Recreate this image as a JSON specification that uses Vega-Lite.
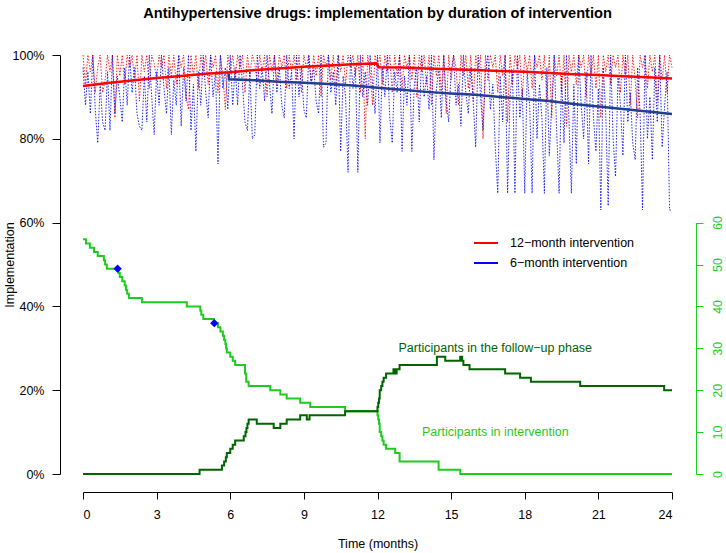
{
  "$schema": "https://vega.github.io/schema/vega-lite/v6.json",
  "width": 589,
  "height": 419,
  "autosize": "none",
  "padding": {"left": 83, "top": 55, "right": 54, "bottom": 79},
  "config": {
    "font": "Liberation Sans",
    "view": {"stroke": null},
    "axis": {
      "grid": false, "domainColor": "#000", "tickColor": "#000", "labelColor": "#000", "titleColor": "#000",
      "labelFontSize": 12.5, "titleFontSize": 12.5, "titleFontWeight": "normal"
    }
  },
  "title": {
    "text": "Antihypertensive drugs: implementation by duration of intervention",
    "fontSize": 14.6, "fontWeight": "bold", "color": "#000", "anchor": "middle", "frame": "group",
    "baseline": "alphabetic", "offset": 16
  },
  "datasets": {
    "imp": [
      {"m":0.0,"b":97,"r":100},{"m":0.1,"b":88,"r":93},{"m":0.2,"b":96,"r":100},{"m":0.3,"b":86,"r":96},{"m":0.4,"b":100,"r":100},
      {"m":0.5,"b":87,"r":91},{"m":0.6,"b":79,"r":97},{"m":0.7,"b":93,"r":100},{"m":0.8,"b":84,"r":91},{"m":0.9,"b":82,"r":94},
      {"m":1.0,"b":96,"r":100},{"m":1.1,"b":82,"r":96},{"m":1.2,"b":100,"r":100},{"m":1.3,"b":86,"r":85},{"m":1.4,"b":95,"r":100},
      {"m":1.5,"b":90,"r":95},{"m":1.6,"b":84,"r":100},{"m":1.7,"b":97,"r":93},{"m":1.8,"b":88,"r":100},{"m":1.9,"b":100,"r":97},
      {"m":2.0,"b":91,"r":100},{"m":2.1,"b":97,"r":94},{"m":2.2,"b":86,"r":100},{"m":2.3,"b":83,"r":89},{"m":2.4,"b":82,"r":100},
      {"m":2.5,"b":95,"r":96},{"m":2.6,"b":84,"r":100},{"m":2.7,"b":100,"r":92},{"m":2.8,"b":90,"r":100},{"m":2.9,"b":81,"r":98},
      {"m":3.0,"b":96,"r":94},{"m":3.1,"b":88,"r":100},{"m":3.2,"b":100,"r":97},{"m":3.3,"b":92,"r":100},{"m":3.4,"b":86,"r":92},
      {"m":3.5,"b":97,"r":100},{"m":3.6,"b":81,"r":95},{"m":3.7,"b":94,"r":100},{"m":3.8,"b":88,"r":93},{"m":3.9,"b":100,"r":100},
      {"m":4.0,"b":83,"r":97},{"m":4.1,"b":97,"r":100},{"m":4.2,"b":89,"r":90},{"m":4.3,"b":100,"r":87},{"m":4.4,"b":82,"r":100},
      {"m":4.5,"b":93,"r":95},{"m":4.6,"b":77,"r":100},{"m":4.7,"b":96,"r":92},{"m":4.8,"b":88,"r":100},{"m":4.9,"b":100,"r":96},
      {"m":5.0,"b":91,"r":100},{"m":5.1,"b":85,"r":93},{"m":5.2,"b":100,"r":100},{"m":5.3,"b":90,"r":97},{"m":5.4,"b":96,"r":100},
      {"m":5.5,"b":74,"r":91},{"m":5.6,"b":100,"r":100},{"m":5.7,"b":92,"r":95},{"m":5.8,"b":97,"r":87},{"m":5.9,"b":87,"r":100},
      {"m":6.0,"b":100,"r":96},{"m":6.1,"b":88,"r":100},{"m":6.2,"b":97,"r":94},{"m":6.3,"b":88,"r":100},{"m":6.4,"b":100,"r":97},
      {"m":6.5,"b":93,"r":100},{"m":6.6,"b":84,"r":91},{"m":6.7,"b":82,"r":100},{"m":6.8,"b":96,"r":95},{"m":6.9,"b":80,"r":100},
      {"m":7.0,"b":81,"r":98},{"m":7.1,"b":100,"r":93},{"m":7.2,"b":92,"r":100},{"m":7.3,"b":97,"r":96},{"m":7.4,"b":89,"r":100},
      {"m":7.5,"b":100,"r":90},{"m":7.6,"b":93,"r":100},{"m":7.7,"b":86,"r":96},{"m":7.8,"b":100,"r":100},{"m":7.9,"b":91,"r":93},
      {"m":8.0,"b":97,"r":100},{"m":8.1,"b":88,"r":97},{"m":8.2,"b":85,"r":100},{"m":8.3,"b":100,"r":92},{"m":8.4,"b":92,"r":100},
      {"m":8.5,"b":96,"r":96},{"m":8.6,"b":80,"r":100},{"m":8.7,"b":100,"r":94},{"m":8.8,"b":90,"r":100},{"m":8.9,"b":97,"r":91},
      {"m":9.0,"b":87,"r":100},{"m":9.1,"b":85,"r":97},{"m":9.2,"b":100,"r":100},{"m":9.3,"b":93,"r":93},{"m":9.4,"b":97,"r":100},
      {"m":9.5,"b":89,"r":95},{"m":9.6,"b":86,"r":100},{"m":9.7,"b":100,"r":90},{"m":9.8,"b":78,"r":100},{"m":9.9,"b":79,"r":97},
      {"m":10.0,"b":100,"r":100},{"m":10.1,"b":91,"r":94},{"m":10.2,"b":96,"r":100},{"m":10.3,"b":88,"r":92},{"m":10.4,"b":100,"r":100},
      {"m":10.5,"b":77,"r":96},{"m":10.6,"b":95,"r":100},{"m":10.7,"b":90,"r":93},{"m":10.8,"b":72,"r":100},{"m":10.9,"b":100,"r":97},
      {"m":11.0,"b":92,"r":100},{"m":11.1,"b":97,"r":95},{"m":11.2,"b":72,"r":100},{"m":11.3,"b":100,"r":91},{"m":11.4,"b":90,"r":100},
      {"m":11.5,"b":96,"r":80},{"m":11.6,"b":88,"r":100},{"m":11.7,"b":100,"r":96},{"m":11.8,"b":93,"r":88},{"m":11.9,"b":86,"r":100},
      {"m":12.0,"b":100,"r":97},{"m":12.1,"b":79,"r":100},{"m":12.2,"b":97,"r":93},{"m":12.3,"b":90,"r":100},{"m":12.4,"b":100,"r":96},
      {"m":12.5,"b":85,"r":100},{"m":12.6,"b":79,"r":91},{"m":12.7,"b":96,"r":100},{"m":12.8,"b":91,"r":95},{"m":12.9,"b":100,"r":100},
      {"m":13.0,"b":77,"r":92},{"m":13.1,"b":95,"r":100},{"m":13.2,"b":88,"r":97},{"m":13.3,"b":100,"r":100},{"m":13.4,"b":77,"r":94},
      {"m":13.5,"b":93,"r":100},{"m":13.6,"b":97,"r":90},{"m":13.7,"b":84,"r":100},{"m":13.8,"b":100,"r":96},{"m":13.9,"b":90,"r":100},
      {"m":14.0,"b":95,"r":93},{"m":14.1,"b":87,"r":100},{"m":14.2,"b":100,"r":88},{"m":14.3,"b":75,"r":100},{"m":14.4,"b":92,"r":95},
      {"m":14.5,"b":97,"r":100},{"m":14.6,"b":85,"r":91},{"m":14.7,"b":100,"r":100},{"m":14.8,"b":89,"r":86},{"m":14.9,"b":84,"r":100},
      {"m":15.0,"b":96,"r":94},{"m":15.1,"b":100,"r":100},{"m":15.2,"b":88,"r":97},{"m":15.3,"b":93,"r":88},{"m":15.4,"b":83,"r":100},
      {"m":15.5,"b":100,"r":95},{"m":15.6,"b":91,"r":100},{"m":15.7,"b":86,"r":92},{"m":15.8,"b":97,"r":100},{"m":15.9,"b":89,"r":89},
      {"m":16.0,"b":78,"r":100},{"m":16.1,"b":100,"r":96},{"m":16.2,"b":90,"r":100},{"m":16.3,"b":82,"r":80},{"m":16.4,"b":96,"r":100},
      {"m":16.5,"b":100,"r":94},{"m":16.6,"b":87,"r":100},{"m":16.7,"b":93,"r":97},{"m":16.8,"b":78,"r":100},{"m":16.9,"b":67,"r":91},
      {"m":17.0,"b":95,"r":100},{"m":17.1,"b":84,"r":95},{"m":17.2,"b":100,"r":100},{"m":17.3,"b":67,"r":84},{"m":17.4,"b":90,"r":100},
      {"m":17.5,"b":96,"r":93},{"m":17.6,"b":67,"r":100},{"m":17.7,"b":100,"r":97},{"m":17.8,"b":85,"r":100},{"m":17.9,"b":92,"r":90},
      {"m":18.0,"b":67,"r":100},{"m":18.1,"b":96,"r":96},{"m":18.2,"b":88,"r":100},{"m":18.3,"b":67,"r":92},{"m":18.4,"b":100,"r":100},
      {"m":18.5,"b":80,"r":97},{"m":18.6,"b":93,"r":100},{"m":18.7,"b":85,"r":94},{"m":18.8,"b":67,"r":100},{"m":18.9,"b":97,"r":89},
      {"m":19.0,"b":76,"r":100},{"m":19.1,"b":88,"r":85},{"m":19.2,"b":100,"r":100},{"m":19.3,"b":82,"r":95},{"m":19.4,"b":67,"r":100},
      {"m":19.5,"b":95,"r":91},{"m":19.6,"b":79,"r":100},{"m":19.7,"b":100,"r":83},{"m":19.8,"b":85,"r":100},{"m":19.9,"b":67,"r":96},
      {"m":20.0,"b":93,"r":100},{"m":20.1,"b":74,"r":93},{"m":20.2,"b":100,"r":100},{"m":20.3,"b":88,"r":97},{"m":20.4,"b":80,"r":100},
      {"m":20.5,"b":96,"r":90},{"m":20.6,"b":74,"r":100},{"m":20.7,"b":100,"r":95},{"m":20.8,"b":85,"r":100},{"m":20.9,"b":77,"r":92},
      {"m":21.0,"b":92,"r":100},{"m":21.1,"b":63,"r":85},{"m":21.2,"b":97,"r":100},{"m":21.3,"b":86,"r":96},{"m":21.4,"b":64,"r":100},
      {"m":21.5,"b":100,"r":93},{"m":21.6,"b":80,"r":100},{"m":21.7,"b":71,"r":97},{"m":21.8,"b":95,"r":100},{"m":21.9,"b":88,"r":91},
      {"m":22.0,"b":76,"r":100},{"m":22.1,"b":100,"r":95},{"m":22.2,"b":84,"r":100},{"m":22.3,"b":91,"r":88},{"m":22.4,"b":79,"r":100},
      {"m":22.5,"b":75,"r":94},{"m":22.6,"b":97,"r":85},{"m":22.7,"b":86,"r":100},{"m":22.8,"b":63,"r":97},{"m":22.9,"b":100,"r":100},
      {"m":23.0,"b":80,"r":92},{"m":23.1,"b":90,"r":100},{"m":23.2,"b":75,"r":96},{"m":23.3,"b":97,"r":100},{"m":23.4,"b":84,"r":89},
      {"m":23.5,"b":100,"r":100},{"m":23.6,"b":78,"r":94},{"m":23.7,"b":88,"r":100},{"m":23.8,"b":96,"r":91},{"m":23.9,"b":63,"r":100},
      {"m":24.0,"b":63,"r":97}
    ],
    "smoothR": [
      {"m":0,"p":92.6},{"m":1,"p":93.3},{"m":2,"p":93.9},{"m":3,"p":94.5},{"m":4,"p":95.0},{"m":5,"p":95.5},{"m":6,"p":95.9},
      {"m":7,"p":96.4},{"m":8,"p":96.8},{"m":9,"p":97.2},{"m":10,"p":97.5},{"m":11,"p":97.8},{"m":11.95,"p":98.0},{"m":12.05,"p":97.1},
      {"m":13,"p":97.0},{"m":14,"p":96.8},{"m":15,"p":96.6},{"m":16,"p":96.4},{"m":17,"p":96.2},{"m":18,"p":96.0},{"m":19,"p":95.7},
      {"m":20,"p":95.4},{"m":21,"p":95.2},{"m":22,"p":94.9},{"m":23,"p":94.7},{"m":24,"p":94.4}
    ],
    "smoothB": [
      {"m":5.93,"p":95.6},{"m":5.95,"p":94.2},{"m":7,"p":94.0},{"m":8,"p":93.6},{"m":9,"p":93.4},{"m":10,"p":93.1},{"m":11,"p":92.7},
      {"m":12,"p":92.2},{"m":13,"p":91.7},{"m":14,"p":91.2},{"m":15,"p":90.8},{"m":16,"p":90.5},{"m":17,"p":90.0},{"m":18,"p":89.5},
      {"m":19,"p":89.0},{"m":20,"p":88.3},{"m":21,"p":87.7},{"m":22,"p":87.1},{"m":23,"p":86.5},{"m":24,"p":85.9}
    ],
    "inInt": [
      {"m":0,"n":56},{"m":0.12,"n":55},{"m":0.28,"n":54},{"m":0.45,"n":53},{"m":0.6,"n":52},{"m":0.85,"n":51},{"m":0.9,"n":50},
      {"m":0.97,"n":49},{"m":1.45,"n":48},{"m":1.5,"n":47},{"m":1.6,"n":46},{"m":1.7,"n":45},{"m":1.75,"n":44},{"m":1.8,"n":43},
      {"m":1.87,"n":42},{"m":2.4,"n":41},{"m":4.23,"n":40},{"m":4.78,"n":39},{"m":4.82,"n":38},{"m":4.9,"n":37},{"m":5.33,"n":36},
      {"m":5.5,"n":35},{"m":5.6,"n":34},{"m":5.7,"n":33},{"m":5.75,"n":32},{"m":5.8,"n":31},{"m":5.83,"n":30},{"m":5.86,"n":29},
      {"m":6.0,"n":28},{"m":6.1,"n":27},{"m":6.2,"n":26},{"m":6.6,"n":24},{"m":6.65,"n":22},{"m":6.75,"n":21},{"m":7.63,"n":20},
      {"m":8.04,"n":19},{"m":8.3,"n":18},{"m":8.85,"n":17},{"m":9.26,"n":16},{"m":10.68,"n":15},{"m":12.0,"n":14},{"m":12.03,"n":13},
      {"m":12.06,"n":12},{"m":12.09,"n":10},{"m":12.15,"n":9},{"m":12.2,"n":8},{"m":12.25,"n":7},{"m":12.35,"n":6},{"m":12.72,"n":5},
      {"m":12.9,"n":3},{"m":14.49,"n":1},{"m":15.37,"n":0},{"m":24,"n":0}
    ],
    "inFu": [
      {"m":0,"n":0},{"m":4.75,"n":1},{"m":5.66,"n":2},{"m":5.75,"n":3},{"m":5.82,"n":4},{"m":5.86,"n":5},{"m":6.0,"n":6},
      {"m":6.1,"n":7},{"m":6.2,"n":8},{"m":6.55,"n":9},{"m":6.62,"n":10},{"m":6.66,"n":11},{"m":6.7,"n":12},{"m":6.75,"n":13},
      {"m":7.08,"n":12},{"m":7.77,"n":11},{"m":8.04,"n":12},{"m":8.3,"n":13},{"m":8.85,"n":14},{"m":9.12,"n":13},{"m":9.23,"n":14},
      {"m":10.68,"n":15},{"m":12.0,"n":16},{"m":12.03,"n":17},{"m":12.06,"n":18},{"m":12.09,"n":20},{"m":12.15,"n":21},{"m":12.2,"n":22},
      {"m":12.25,"n":23},{"m":12.35,"n":24},{"m":12.65,"n":25},{"m":12.72,"n":24},{"m":12.78,"n":25},{"m":12.9,"n":26},{"m":14.42,"n":28},
      {"m":14.76,"n":27},{"m":15.37,"n":28},{"m":15.45,"n":27},{"m":15.5,"n":26},{"m":15.75,"n":25},{"m":17.2,"n":24},{"m":17.81,"n":23},
      {"m":18.25,"n":22},{"m":20.26,"n":21},{"m":23.68,"n":20},{"m":24,"n":20}
    ],
    "marks": [{"m":1.41,"n":49},{"m":5.35,"n":36}],
    "labFu": [{"m":16.8,"n":30.1,"label":"Participants in the follow−up phase"}],
    "labInt": [{"m":16.8,"n":10.1,"label":"Participants in intervention"}]
  },
  "layer": [
    {
      "layer": [
        {
          "data": {"name": "imp"},
          "transform": [{"fold": ["r", "b"], "as": ["arm", "pct"]}],
          "mark": {"type": "line", "strokeWidth": 1, "strokeDash": [1.5, 1.5], "opacity": 0.85},
          "encoding": {
            "x": {
              "field": "m", "type": "quantitative", "scale": {"domain": [0, 24], "nice": false, "zero": false},
              "axis": {"orient": "bottom", "offset": 18, "values": [0, 3, 6, 9, 12, 15, 18, 21, 24], "tickSize": 7,
                       "labelPadding": 9, "title": "Time (months)", "titlePadding": 17}
            },
            "y": {
              "field": "pct", "type": "quantitative", "scale": {"domain": [0, 100], "nice": false},
              "axis": {"orient": "left", "offset": 23, "values": [0, 20, 40, 60, 80, 100], "tickSize": 8, "labelPadding": 8,
                       "labelExpr": "datum.value + '%'", "title": "Implementation", "titlePadding": -4}
            },
            "color": {
              "field": "arm", "type": "nominal",
              "scale": {"domain": ["r", "b"], "range": ["#FF0000", "#0000FF"]},
              "legend": {
                "orient": "none", "legendX": 390, "legendY": 175, "title": null,
                "labelExpr": "datum.value == 'r' ? '12−month intervention' : '6−month intervention'",
                "symbolType": "stroke", "symbolStrokeWidth": 2, "symbolSize": 576, "symbolDash": [1, 0], "symbolOpacity": 1,
                "labelFontSize": 12.5, "labelOffset": 11, "rowPadding": -2, "labelColor": "#000"
              }
            }
          }
        },
        {
          "data": {"name": "smoothR"},
          "mark": {"type": "line", "color": "#FF0000", "strokeWidth": 2.5},
          "encoding": {
            "x": {"field": "m", "type": "quantitative", "scale": {"domain": [0, 24], "nice": false, "zero": false}},
            "y": {"field": "p", "type": "quantitative", "scale": {"domain": [0, 100], "nice": false}}
          }
        },
        {
          "data": {"name": "smoothB"},
          "mark": {"type": "line", "color": "#233F8C", "strokeWidth": 2.5},
          "encoding": {
            "x": {"field": "m", "type": "quantitative", "scale": {"domain": [0, 24], "nice": false, "zero": false}},
            "y": {"field": "p", "type": "quantitative", "scale": {"domain": [0, 100], "nice": false}}
          }
        }
      ]
    },
    {
      "layer": [
        {
          "data": {"name": "inInt"},
          "mark": {"type": "line", "color": "#1ECC1E", "strokeWidth": 2, "interpolate": "step-after"},
          "encoding": {
            "x": {"field": "m", "type": "quantitative", "scale": {"domain": [0, 24], "nice": false, "zero": false}},
            "y": {
              "field": "n", "type": "quantitative",
              "scale": {"domain": [0, 60], "nice": false, "range": [{"expr": "height"}, {"expr": "height * 0.4"}]},
              "axis": {"orient": "right", "offset": 24, "values": [0, 10, 20, 30, 40, 50, 60], "tickSize": 7, "labelPadding": 8,
                       "labelAngle": -90, "labelAlign": "center", "labelBaseline": "top", "title": null,
                       "domainColor": "#1ECC1E", "tickColor": "#1ECC1E", "labelColor": "#1ECC1E"}
            }
          }
        },
        {
          "data": {"name": "inFu"},
          "mark": {"type": "line", "color": "#006400", "strokeWidth": 2, "interpolate": "step-after"},
          "encoding": {
            "x": {"field": "m", "type": "quantitative", "scale": {"domain": [0, 24], "nice": false, "zero": false}},
            "y": {"field": "n", "type": "quantitative"}
          }
        },
        {
          "data": {"name": "marks"},
          "mark": {"type": "point", "shape": "diamond", "filled": true, "color": "#0000FF", "size": 70, "opacity": 1},
          "encoding": {
            "x": {"field": "m", "type": "quantitative", "scale": {"domain": [0, 24], "nice": false, "zero": false}},
            "y": {"field": "n", "type": "quantitative"}
          }
        },
        {
          "data": {"name": "labFu"},
          "mark": {"type": "text", "color": "#006400", "fontSize": 12.5, "align": "center", "baseline": "middle"},
          "encoding": {
            "x": {"field": "m", "type": "quantitative", "scale": {"domain": [0, 24], "nice": false, "zero": false}},
            "y": {"field": "n", "type": "quantitative"},
            "text": {"field": "label"}
          }
        },
        {
          "data": {"name": "labInt"},
          "mark": {"type": "text", "color": "#1ECC1E", "fontSize": 12.5, "align": "center", "baseline": "middle"},
          "encoding": {
            "x": {"field": "m", "type": "quantitative", "scale": {"domain": [0, 24], "nice": false, "zero": false}},
            "y": {"field": "n", "type": "quantitative"},
            "text": {"field": "label"}
          }
        }
      ]
    }
  ],
  "resolve": {"scale": {"y": "independent"}}
}
